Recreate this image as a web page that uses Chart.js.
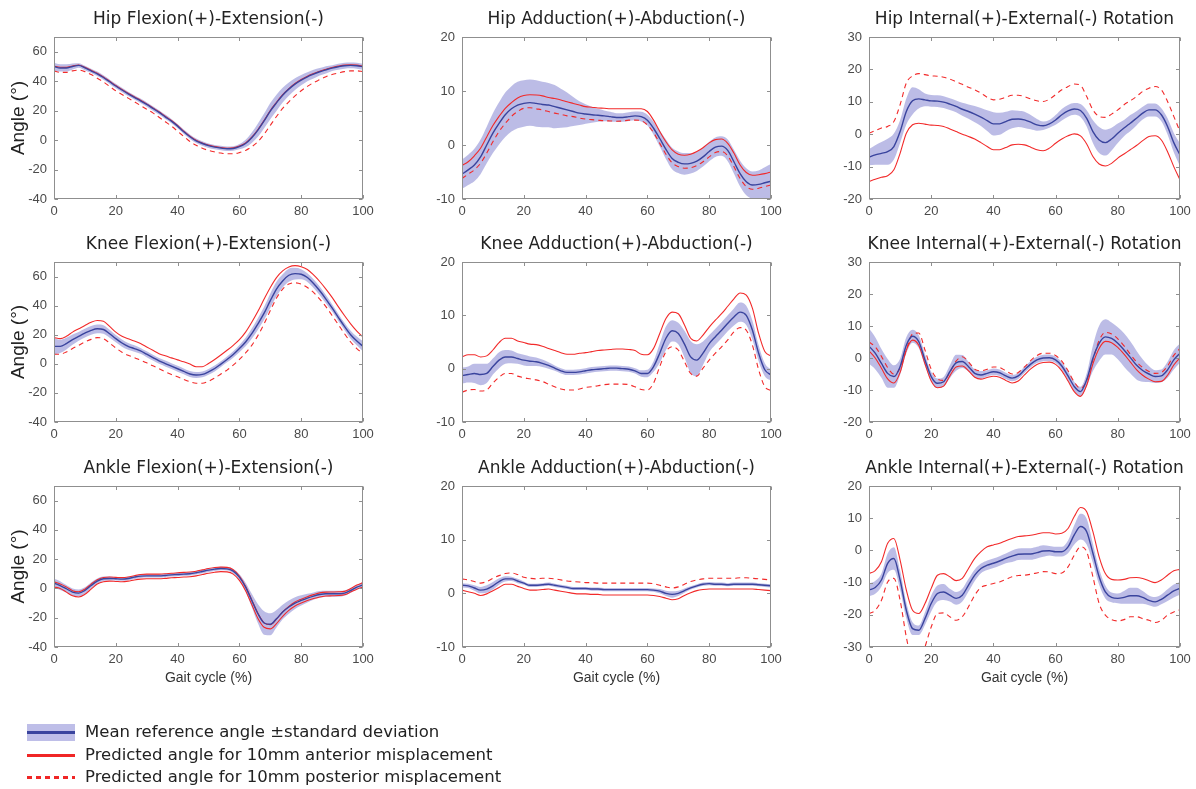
<!DOCTYPE html>
<html>
<head>
<meta charset="utf-8">
<script src="https://cdn.jsdelivr.net/npm/chart.js@4.4.1/dist/chart.umd.min.js"></script>
<style>
  html, body { margin: 0; padding: 0; background: #ffffff; }
  body { width: 1196px; height: 789px; position: relative; overflow: hidden; }
  canvas.panel { position: absolute; }
  .legend { position: absolute; left: 0; top: 0; width: 700px; height: 789px; font-family: "DejaVu Sans", Verdana, sans-serif; font-size: 16.5px; color: #222; }
  .lg-text { position: absolute; left: 85px; line-height: 20px; white-space: nowrap; }
  .sw-band { position: absolute; left: 27px; width: 48px; height: 17px; background: rgb(190,190,232); }
  .sw-band-line { position: absolute; left: 27px; width: 48px; height: 3px; background: #3a449e; }
  .sw-red { position: absolute; left: 27px; width: 48px; height: 2.5px; background: #f02626; }
  .sw-dot { position: absolute; left: 27px; width: 48px; height: 2.5px;
            background: repeating-linear-gradient(to right, #f02626 0px, #f02626 5px, transparent 5px, transparent 9px); }
</style>
</head>
<body>
<script>
// ---------------- DATA ----------------
const gaitCycle = [0,2,4,6,8,10,12,14,16,18,20,22,24,26,28,30,32,34,36,38,40,42,44,46,48,50,52,54,56,58,60,62,64,66,68,70,72,74,76,78,80,82,84,86,88,90,92,94,96,98,100];
const xTickValues = [0,20,40,60,80,100];

const panelTitles = [
  "Hip Flexion(+)-Extension(-)", "Hip Adduction(+)-Abduction(-)", "Hip Internal(+)-External(-) Rotation",
  "Knee Flexion(+)-Extension(-)", "Knee Adduction(+)-Abduction(-)", "Knee Internal(+)-External(-) Rotation",
  "Ankle Flexion(+)-Extension(-)", "Ankle Adduction(+)-Abduction(-)", "Ankle Internal(+)-External(-) Rotation"
];
const yMins = [-40,-10,-20, -40,-10,-20, -40,-10,-30];
const yMaxs = [70,20,30, 70,20,30, 70,20,20];
const yTickValues = [
  [-40,-20,0,20,40,60], [-10,0,10,20], [-20,-10,0,10,20,30],
  [-40,-20,0,20,40,60], [-10,0,10,20], [-20,-10,0,10,20,30],
  [-40,-20,0,20,40,60], [-10,0,10,20], [-30,-20,-10,0,10,20]
];
const yAxisTitle = "Angle (°)";
const xAxisTitle = "Gait cycle (%)";
const legendLabels = [
  "Mean reference angle ±standard deviation",
  "Predicted angle for 10mm anterior misplacement",
  "Predicted angle for 10mm posterior misplacement"
];

// Hip flexion/extension
const hipFlexMean = [50,49,49,50,50.7,49,47,45,42.5,39.6, 36.7,34,31.4,29,26.7,24.2,21.5,18.8,15.8,12.9, 9.5,5.7,2.3,-0.5,-2.3,-3.8,-4.8,-5.4,-5.9,-5.7, -4.5,-2.3,1.6,6.8,13,19.7,25.3,30.5,34.6,38, 40.7,43,44.8,46.4,47.7,48.9,49.8,50.5,50.7,50.5, 49.8];
const hipFlexSD   = [2.5,2.5,2.5,2,1.5,1.5,1.5,1.5,1.5,1.5, 1.5,1.5,1.5,1.5,1.5,1.5,1.5,1.5,1.5,1.5, 1.5,1.5,1.5,1.5,1.5,1.5,1.5,1.5,1.5,1.5, 1.8,2.5,3.5,4.5,5,5.5,5.5,5,4.5,4, 3.5,3,3,2.5,2.5,2,2,2,2,2, 2];
const hipFlexAnt  = [50.3,49.5,49.4,50.3,51,49.4,47.4,45.4,42.9,40, 37.1,34.4,31.8,29.4,27.1,24.6,21.9,19.2,16.2,13.3, 9.9,6.1,2.7,-0.1,-1.9,-3.4,-4.4,-5,-5.5,-5.3, -4.1,-1.9,2,7.2,13.4,20.1,25.7,30.9,35,38.4, 41.1,43.4,45.2,46.8,48.1,49.3,50.2,50.9,51.1,50.9, 50.2];
const hipFlexPost = [47,46,46,47,47.5,46.5,44.5,42,39.5,36.5, 33.5,31,28.5,26,23.5,21,18.5,15.5,12.5,9.5, 6,2.5,-1,-3.5,-5.5,-7,-8,-8.8,-9.3,-9.3, -8.5,-7,-4.5,-1,4,10,16,21.5,26,30, 33.5,36.5,39,41,43,44.5,45.5,46.5,47,47, 46.5];

// Hip adduction/abduction
const hipAddMean = [-5.4,-4.6,-3.7,-2.2,0,2.2,4,5.6,6.7,7.4, 7.7,7.85,7.7,7.5,7.4,7.1,6.8,6.5,6.2,5.9, 5.75,5.6,5.5,5.4,5.25,5.1,5.1,5.25,5.4,5.25, 4.6,3.1,1.2,-0.8,-2.5,-3.2,-3.5,-3.4,-3,-2.2, -1.2,-0.4,-0.2,-1,-3.1,-5.3,-6.8,-7.4,-7.3,-7, -6.7];
const hipAddSD   = [2.7,2.8,3,3.2,3.4,3.7,3.9,4.1,4.2,4.3, 4.3,4.3,4.3,4.2,4.1,4,3.6,3.2,2.7,2.2, 1.8,1.5,1.2,1,0.9,0.8,0.8,0.8,0.8,0.9, 1,1.2,1.5,1.8,2,2,2,1.9,1.8,1.8, 1.8,1.8,1.8,2,2.2,2.4,2.5,2.5,2.6,2.9, 3.2];
const hipAddAnt  = [-3.8,-3.1,-2,-0.6,1.5,3.6,5.3,6.8,7.85,8.7, 9.15,9.3,9.25,9.1,8.8,8.6,8.35,8,7.7,7.4, 7.1,7,6.85,6.8,6.7,6.7,6.7,6.7,6.7,6.7, 6.2,4.6,2.5,0.6,-0.9,-1.7,-1.9,-1.7,-1.2,-0.5, 0.4,1,1.1,0.3,-1.5,-3.7,-5.1,-5.6,-5.5,-5.3, -5];
const hipAddPost = [-6.2,-5.4,-4.6,-3.4,-1.5,0.6,2.5,4,5.3,6.2, 6.8,6.9,6.7,6.5,6.2,5.9,5.7,5.4,5.25,5, 4.8,4.7,4.6,4.5,4.45,4.4,4.45,4.6,4.6,4.5, 3.7,2.3,0.3,-1.7,-3.3,-4,-4.3,-4.2,-3.8,-3.1, -2.2,-1.4,-1.2,-2,-4,-6.2,-7.7,-8.2,-8,-7.7, -7.4];

// Hip internal/external rotation
const hipRotMean = [-7.1,-6.4,-5.9,-5.4,-3.8,0.8,7,10.3,10.9,10.6, 10.3,10.2,9.9,9.3,8.6,7.7,7,6.2,5.3,4.2, 3.2,3.2,3.9,4.6,4.7,4.4,3.7,2.9,2.6,3.2, 4.4,6,7.2,7.8,7.3,4.9,0.8,-1.8,-2.6,-1.5, 0.3,1.9,3.4,4.9,6.5,7.5,7.5,6,2.4,-2.6, -6.4];
const hipRotSD   = [2.5,3,3.5,4,4,3.5,4,4.2,3,2, 1.8,1.8,1.8,1.8,1.8,2,2.2,2.5,2.8,3.2, 3.6,3.4,3,2.8,2.5,2.5,2.2,1.8,1.3,1.2, 1.5,1.8,1.8,1.8,2,2.5,3.5,4,4,3.5, 3,2.5,2.5,2.2,2,2,2,2,2.5,3, 3.5];
const hipRotAnt  = [-14.6,-13.9,-13.3,-12.8,-11,-5.9,0.3,2.9,3.4,3.1, 2.8,2.7,2.4,1.6,0.8,0,-0.7,-1.5,-2.6,-3.8, -4.8,-4.8,-4.1,-3.3,-3.1,-3.3,-4,-4.8,-5.1,-4.3, -2.8,-1.5,-0.5,0.1,-0.5,-3,-6.9,-9.2,-9.8,-9, -7.4,-6.1,-4.8,-3.5,-2,-0.7,-0.5,-1.8,-5.4,-10, -14.1];
const hipRotPost = [0.3,1.1,1.9,2.4,3.9,9.1,15.8,18,18.7,18.4, 18,17.9,17.6,17,16.2,15.4,14.5,13.7,12.7,11.4, 10.6,10.8,11.4,12,12,11.6,10.9,10.3,10.1,10.8, 12.2,13.7,14.7,15.5,15.1,11.6,7.5,5.5,5.2,6.2, 7.5,9.1,10.3,11.6,13.2,14.2,14.7,13.7,10.1,5.5, 0.8];

// Knee flexion/extension
const kneeFlexMean = [12,12,13.9,16.6,18.9,21.1,23,24.1,23.6,20.7, 17.3,14.3,12,10.5,8.9,6.6,4.3,2,0.2,-1.6, -3.4,-5.2,-7,-7.7,-7.3,-5.5,-3.2,-0.2,3,6.4, 10.5,15,20.7,27.5,34.8,43.4,51.4,57,60.9,62, 61.6,59.3,55.2,50.2,44.5,38.4,32,25.7,20,15.7, 12];
const kneeFlexSD   = [5.5,4.5,4,3.5,3,3,3,3,3,2.8, 2.5,2.5,2.3,2.2,2,2,2,2,2,2, 2,2,2,2,2,2,2,2,2,2.2, 2.5,3,3.5,4,4.5,5,5,4.5,4.5,4, 3.5,3,3,3,2.8,2.5,2.5,2.5,2.8,3, 3.5];
const kneeFlexAnt  = [18,17.3,18.9,21.8,24.1,26.4,28.6,29.8,29.3,25.7, 21.8,18.9,17.3,15.7,13.9,11.6,9.3,7,5.5,4.1, 2.7,1.4,-0.2,-2,-2,0.2,3,6.1,9.3,12.7, 16.6,21.8,28.6,36.1,44.5,52.5,59.3,63.9,66.6,67.5, 66.8,64.8,61.1,56.6,51.4,45.7,39.3,33.2,27.5,22.5, 18.4];
const kneeFlexPost = [6.6,6.6,8.2,10.5,12.7,15,16.8,18,17.3,14.3, 10.9,8,5.9,4.3,2.5,0.7,-1.4,-3.4,-5.5,-7.3, -8.9,-10.7,-12.3,-13.4,-13.4,-12,-9.8,-7,-4.3,-0.9, 3,7.5,12.7,19.5,27.5,36.6,45.2,51.4,54.8,55.7, 54.8,52.5,49.1,44.5,39.3,33.2,27,20.7,15,10.5, 7];

// Knee adduction/abduction
const kneeAddMean = [-1.3,-1.1,-0.9,-1.1,-0.9,0.4,1.6,2.2,2.2,1.9, 1.6,1.4,1.3,1,0.6,0.1,-0.4,-0.7,-0.7,-0.6, -0.4,-0.2,-0.1,0,0.1,0.1,0,-0.1,-0.4,-0.9, -0.9,0.4,2.9,5.7,7.1,6.6,4.6,2.2,1.6,2.9, 4.7,6,7.2,8.5,9.7,10.6,10,7.2,2.9,-0.2, -1.2];
const kneeAddSD   = [1.5,1.5,1.8,2,1.8,1.5,1.5,1.3,1.2,1, 1,0.9,0.8,0.7,0.6,0.5,0.5,0.5,0.5,0.5, 0.5,0.5,0.5,0.5,0.5,0.5,0.5,0.5,0.5,0.6, 0.7,1,1.8,2.2,2,2,2.5,3,3,2.2, 1.6,1.5,1.5,1.5,1.6,1.8,1.8,1.8,1.5,1.2, 1];
const kneeAddAnt  = [2.2,2.6,2.6,2.2,2.4,3.5,4.9,5.7,5.7,5.2, 4.9,4.6,4.5,4.2,3.8,3.4,3,2.7,2.7,2.9, 3,3.2,3.4,3.5,3.6,3.7,3.7,3.6,3.4,2.7, 2.6,3.8,6.6,9.4,10.6,10.3,8.2,5.7,5.2,6.3, 7.8,9.1,10.3,11.7,13.1,14.2,13.8,11.3,6.6,3.2, 2.4];
const kneeAddPost = [-4.4,-4,-3.9,-4.2,-4,-2.7,-1.6,-0.9,-0.9,-1.4, -1.7,-1.9,-2.1,-2.4,-2.9,-3.4,-3.8,-4,-4,-3.8, -3.5,-3.4,-3.2,-3,-2.9,-2.9,-2.9,-3,-3.4,-3.9, -4,-2.7,0.4,3.2,4.1,3.5,1.3,-0.9,-1.4,0.1, 1.6,2.9,4.1,5.4,6.9,7.7,7.2,4.4,-0.2,-3.4, -4.1];

// Knee internal/external rotation
const kneeRotMean = [3.7,1.5,-1.7,-4.8,-5.8,-2.7,4,6.8,5.1,-0.6, -5.8,-7.9,-7.4,-4.3,-1.5,-1.1,-2.7,-4.8,-5.3,-4.8, -4.3,-4.6,-5.6,-6.3,-5.6,-3.7,-1.9,-0.6,0,0.1, -0.6,-2.5,-5.6,-8.9,-10.5,-6.8,-0.1,4.6,6.6,6.1, 4.6,2.5,0.2,-2.2,-3.9,-5,-5.8,-5.6,-3.7,-0.6, 1.5];
const kneeRotSD   = [5.5,5,4.5,4.5,3.5,2.5,2.5,2,2,1.8, 1.5,1.5,1.5,2,2.5,2,1.5,1.2,1.2,1, 1,1,1,1,1,1,1,1,1,1, 1,1.2,1.5,1.5,1.5,2,4,5.5,5.5,5, 5,5.2,5,4.5,3.5,2.5,2,2,2.5,3, 3];
const kneeRotAnt  = [2.2,0,-3.2,-6.5,-7.8,-4.5,2.5,5.6,4,-1.8, -7.2,-9.3,-8.8,-5.6,-2.8,-2.5,-4,-6,-6.6,-6.1, -5.7,-6,-7,-7.8,-7.2,-5.3,-3.4,-2,-1.4,-1.3, -2,-4,-7.2,-10.5,-12,-8.5,-1.8,3,5.2,4.8, 3.3,1.2,-1.2,-3.6,-5.4,-6.6,-7.4,-7.3,-5.4,-2.2, 0];
const kneeRotPost = [5,3.5,0.5,-3,-5,-3.2,2.5,7.5,7.8,2.5, -3.5,-6.5,-7,-4.5,-1,0.4,-1.2,-3.5,-4,-3.5, -2.8,-3,-4,-5,-4.5,-2.8,-0.8,0.8,1.5,1.5, 0.8,-1,-4,-7.5,-9.5,-7,-0.5,5.5,8,7.5, 6,3.8,1.2,-1.2,-3,-4.2,-4.8,-4.5,-2.5,0.8, 3];

// Ankle flexion/extension
const ankleFlexMean = [3.6,2,-0.2,-2.5,-3.2,-1.4,2,5,6.6,6.8, 6.6,6.4,6.8,7.7,8.4,8.6,8.6,8.6,8.9,9.3, 9.5,9.8,10,10.7,11.6,12.5,13.2,13.6,13.4,11.8, 7.7,0.9,-8.2,-17.3,-23.6,-24.5,-20.7,-16.1,-12.7,-10, -8.2,-6.6,-5.2,-4.1,-3.6,-3.6,-3.6,-3.2,-1.4,0.9, 2.5];
const ankleFlexSD   = [3,3,2.5,2.5,2.5,2.2,2,1.8,1.5,1.3, 1.2,1.2,1.2,1.2,1.2,1.2,1.2,1.2,1.2,1.2, 1.2,1.2,1.2,1.2,1.2,1.2,1.2,1.2,1.2,1.5, 2,3,4.5,6.5,8,7.5,6,5,4.5,4, 3.5,3,2.5,2.3,2,2,2,1.8,1.5,1.5, 1.5];
const ankleFlexAnt  = [4.5,3,1,-1.5,-2.3,-0.5,3,6,7.5,7.8, 7.6,7.4,7.8,8.7,9.5,9.8,9.8,9.8,10,10.4, 10.7,11,11.2,11.8,12.7,13.6,14.3,14.6,14.4,12.8, 8.5,1.5,-7.8,-17,-23.5,-24.7,-21,-16,-12.2,-9.3, -7.3,-5.6,-4.2,-3,-2.5,-2.4,-2.3,-2,0,2.3, 4];
const ankleFlexPost = [1,0,-2.5,-5,-5.8,-4,-0.5,3,4.6,5, 4.8,4.6,5,5.8,6.4,6.6,6.6,6.6,6.9,7.3, 7.5,7.8,8,8.6,9.5,10.4,11.1,11.5,11.3,9.8, 5.5,-1.5,-11,-20.5,-26.5,-27.6,-24,-19,-15,-12, -10,-8.3,-6.9,-5.8,-5.2,-5,-4.8,-4.3,-2.5,-0.5, 1];

// Ankle adduction/abduction
const ankleAddMean = [1.5,1.4,1,0.6,0.8,1.4,2.2,2.7,2.7,2.3, 1.9,1.5,1.5,1.6,1.7,1.5,1.3,1.1,0.9,0.9, 0.9,0.8,0.8,0.7,0.7,0.7,0.7,0.7,0.7,0.7, 0.7,0.6,0.4,0,-0.2,0,0.5,1,1.4,1.7, 1.8,1.7,1.7,1.6,1.7,1.7,1.7,1.7,1.6,1.5, 1.4];
const ankleAddSD   = [0.4,0.4,0.5,0.6,0.7,0.7,0.6,0.5,0.4,0.4, 0.3,0.3,0.3,0.3,0.3,0.3,0.3,0.3,0.3,0.3, 0.3,0.3,0.3,0.3,0.3,0.3,0.3,0.3,0.3,0.3, 0.3,0.3,0.4,0.5,0.6,0.5,0.4,0.3,0.3,0.3, 0.3,0.3,0.3,0.3,0.3,0.3,0.3,0.3,0.3,0.3, 0.3];
const ankleAddAnt  = [0.6,0.3,0,-0.4,-0.1,0.5,1.1,1.7,1.7,1.3, 0.9,0.6,0.6,0.7,0.8,0.6,0.4,0.2,0,-0.1, -0.1,-0.2,-0.2,-0.3,-0.3,-0.3,-0.3,-0.3,-0.3,-0.3, -0.3,-0.4,-0.6,-0.9,-1.2,-1,-0.4,0.1,0.5,0.7, 0.8,0.8,0.8,0.8,0.8,0.8,0.8,0.8,0.7,0.6, 0.5];
const ankleAddPost = [2.7,2.5,2.2,1.9,2.2,2.8,3.3,3.7,3.8,3.5, 3,2.8,2.7,2.8,2.8,2.7,2.5,2.3,2.2,2.1, 2,2,1.9,1.9,1.9,1.9,1.9,1.9,1.9,1.9, 1.9,1.8,1.5,1.2,1,1.2,1.7,2.2,2.5,2.7, 2.8,2.8,2.8,2.8,2.8,2.9,2.9,2.8,2.7,2.6, 2.5];

// Ankle internal/external rotation
const ankleRotMean = [-12.3,-11.5,-9.2,-4,-2.5,-9.2,-18.6,-24.3,-24.8,-21.2, -16.5,-13.4,-12.9,-13.9,-14.9,-13.9,-10.8,-7.7,-5.6,-4.6, -4,-3.3,-2.5,-1.8,-1.2,-1.1,-1.1,-0.7,-0.2,-0.1, -0.4,-0.4,1.1,4.8,7.4,5.8,-0.9,-8.2,-12.9,-14.6, -14.9,-14.6,-14.1,-14.1,-14.6,-15.5,-16,-15.2,-13.9,-12.6, -11.8];
const ankleRotSD   = [2,2,2,3,3.5,3,2.5,2,1.5,2, 2.5,2.5,2.5,2,2,2,2,1.8,1.5,1.5, 1.5,1.5,1.5,1.8,1.8,1.8,1.8,1.8,1.8,1.5, 1.5,1.5,2,3,4,4,3,2.5,2,1.5, 1.5,2,2.5,2.5,2,1.5,1.5,1.5,1.8,2, 2];
const ankleRotAnt  = [-7.2,-6.3,-3.5,2.2,3.7,-3,-12.3,-18.6,-19.6,-16.5, -11.8,-7.7,-7.2,-8.2,-9.4,-8.7,-5.6,-2.5,-0.4,1.1, 1.7,2.2,3,3.7,4.3,4.5,4.7,5.1,5.5,5.5, 5.1,5.3,6.8,10.5,13.3,12,5.8,-2,-7.2,-9, -9.2,-9,-8.5,-8.4,-8.7,-9.4,-10,-9.2,-7.7,-6.3, -5.9];
const ankleRotPost = [-19.6,-18.6,-15.5,-9.8,-8.7,-15.5,-26.9,-35,-36,-30, -23.8,-19.6,-19.4,-20.6,-21.7,-20.6,-17.5,-13.9,-11.5,-10.8, -10.3,-9.8,-9,-8.2,-7.8,-7.7,-7.4,-7,-6.6,-6.7, -7.2,-7,-5.1,-1.5,1.1,-0.4,-8.2,-16.5,-20.1,-21.5, -21.9,-21.5,-20.6,-20.6,-21.2,-21.7,-22.4,-21.7,-20.1,-19.1, -18.4];

// panel order: rows (hip, knee, ankle) x columns (flexion, adduction, rotation)
const panelMeans = [hipFlexMean, hipAddMean, hipRotMean, kneeFlexMean, kneeAddMean, kneeRotMean, ankleFlexMean, ankleAddMean, ankleRotMean];
const panelSDs   = [hipFlexSD, hipAddSD, hipRotSD, kneeFlexSD, kneeAddSD, kneeRotSD, ankleFlexSD, ankleAddSD, ankleRotSD];
const panelAnts  = [hipFlexAnt, hipAddAnt, hipRotAnt, kneeFlexAnt, kneeAddAnt, kneeRotAnt, ankleFlexAnt, ankleAddAnt, ankleRotAnt];
const panelPosts = [hipFlexPost, hipAddPost, hipRotPost, kneeFlexPost, kneeAddPost, kneeRotPost, ankleFlexPost, ankleAddPost, ankleRotPost];

// ---------------- LAYOUT / STYLE ----------------
const colLeft = [54, 462, 869], colRight = [363, 771, 1180];
const rowTop = [37, 262, 486], rowBottom = [199, 422, 647];
const AXIS_W = 54, PAD_TOP = 30, PAD_RIGHT = 20;
const BAND_COLOR = 'rgba(122,122,206,0.50)';
const MEAN_COLOR = '#3a449e';
const RED = '#f22a2a';
const TICK_FONT = { family: '"Liberation Sans", Arial, sans-serif', size: 13 };
const TICK_COLOR = '#4a4a4a';

const boxPlugin = {
  id: 'matlabBox',
  afterDatasetsDraw(chart) {
    const { ctx, chartArea: a, scales } = chart;
    ctx.save();
    ctx.strokeStyle = '#8f8f8f';
    ctx.lineWidth = 1;
    const L = Math.round(a.left) + 0.5, R = Math.round(a.right) - 0.5;
    const T = Math.round(a.top) + 0.5, B = Math.round(a.bottom) - 0.5;
    ctx.strokeRect(L, T, R - L, B - T);
    ctx.beginPath();
    scales.y.ticks.forEach(t => {
      const y = Math.round(scales.y.getPixelForValue(t.value)) + 0.5;
      ctx.moveTo(L, y); ctx.lineTo(L + 3.5, y);
      ctx.moveTo(R, y); ctx.lineTo(R - 3.5, y);
    });
    scales.x.ticks.forEach(t => {
      const x = Math.round(scales.x.getPixelForValue(t.value)) + 0.5;
      ctx.moveTo(x, B); ctx.lineTo(x, B - 3.5);
      ctx.moveTo(x, T); ctx.lineTo(x, T + 3.5);
    });
    ctx.stroke();
    ctx.restore();
  }
};

const titlePlugin = {
  id: 'panelTitle',
  afterDraw(chart, args, opts) {
    const { ctx, chartArea: a } = chart;
    ctx.save();
    ctx.font = '17px "DejaVu Sans", Verdana, sans-serif';
    ctx.fillStyle = '#222';
    ctx.textAlign = 'center';
    ctx.textBaseline = 'middle';
    ctx.fillText(opts.text, (a.left + a.right) / 2, a.top - 17);
    ctx.restore();
  }
};

for (let p = 0; p < 9; p++) {
  const row = Math.floor(p / 3), col = p % 3;
  const W = colRight[col] - colLeft[col];
  const H = rowBottom[row] - rowTop[row];
  const xAxisH = row === 2 ? 45 : 25;
  const cv = document.createElement('canvas');
  cv.className = 'panel';
  cv.width = AXIS_W + W + PAD_RIGHT;
  cv.height = PAD_TOP + H + xAxisH;
  cv.style.left = (colLeft[col] - AXIS_W) + 'px';
  cv.style.top = (rowTop[row] - PAD_TOP) + 'px';
  cv.style.width = cv.width + 'px';
  cv.style.height = cv.height + 'px';
  document.body.appendChild(cv);

  const mean = panelMeans[p], sd = panelSDs[p], ant = panelAnts[p], post = panelPosts[p];
  const pts = arr => gaitCycle.map((x, i) => ({ x: x, y: arr[i] }));
  const upper = gaitCycle.map((x, i) => ({ x: x, y: mean[i] + sd[i] }));
  const lower = gaitCycle.map((x, i) => ({ x: x, y: mean[i] - sd[i] }));
  const common = { pointRadius: 0, cubicInterpolationMode: 'monotone' };

  new Chart(cv, {
    type: 'line',
    data: {
      datasets: [
        Object.assign({ data: upper, borderWidth: 0, borderColor: 'rgba(0,0,0,0)', backgroundColor: BAND_COLOR, fill: '+1', order: 3 }, common),
        Object.assign({ data: lower, borderWidth: 0, borderColor: 'rgba(0,0,0,0)', fill: false, order: 3 }, common),
        Object.assign({ data: pts(ant), borderWidth: 1.1, borderColor: RED, fill: false, order: 2 }, common),
        Object.assign({ data: pts(post), borderWidth: 1.1, borderColor: RED, borderDash: p === 6 ? [] : [5, 4], fill: false, order: 2 }, common),
        Object.assign({ data: pts(mean), borderWidth: 1.4, borderColor: MEAN_COLOR, fill: false, order: 1 }, common)
      ]
    },
    options: {
      responsive: false,
      animation: false,
      devicePixelRatio: 1,
      events: [],
      layout: { padding: { top: PAD_TOP, right: PAD_RIGHT, left: 0, bottom: 0 } },
      plugins: {
        legend: { display: false },
        tooltip: { enabled: false },
        panelTitle: { text: panelTitles[p] }
      },
      scales: {
        x: {
          type: 'linear', min: 0, max: 100,
          afterBuildTicks: s => { s.ticks = xTickValues.map(v => ({ value: v })); },
          afterFit: s => { s.height = xAxisH; },
          grid: { display: false, drawTicks: false },
          border: { display: false },
          ticks: { padding: 5, color: TICK_COLOR, font: TICK_FONT, maxRotation: 0, autoSkip: false },
          title: { display: row === 2, text: xAxisTitle, color: '#333', font: { family: '"Liberation Sans", Arial, sans-serif', size: 14 }, padding: { top: 0, bottom: 5 } }
        },
        y: {
          type: 'linear', min: yMins[p], max: yMaxs[p],
          afterBuildTicks: s => { s.ticks = yTickValues[p].map(v => ({ value: v })); },
          afterFit: s => { s.width = AXIS_W; },
          grid: { display: false, drawTicks: false },
          border: { display: false },
          ticks: { padding: 7, color: TICK_COLOR, font: TICK_FONT, autoSkip: false },
          title: { display: col === 0, text: yAxisTitle, color: '#222', font: { family: '"Liberation Sans", Arial, sans-serif', size: 19 }, padding: { top: 7, bottom: 0 } }
        }
      }
    },
    plugins: [boxPlugin, titlePlugin]
  });
}

// ---------------- LEGEND ----------------
const lg = document.createElement('div');
lg.className = 'legend';
lg.innerHTML =
  '<div class="sw-band" style="top:724px"></div>' +
  '<div class="sw-band-line" style="top:731px"></div>' +
  '<div class="lg-text" style="top:722px">' + legendLabels[0] + '</div>' +
  '<div class="sw-red" style="top:754px"></div>' +
  '<div class="lg-text" style="top:745px">' + legendLabels[1] + '</div>' +
  '<div class="sw-dot" style="top:776px"></div>' +
  '<div class="lg-text" style="top:767px">' + legendLabels[2] + '</div>';
document.body.appendChild(lg);
</script>
</body>
</html>
